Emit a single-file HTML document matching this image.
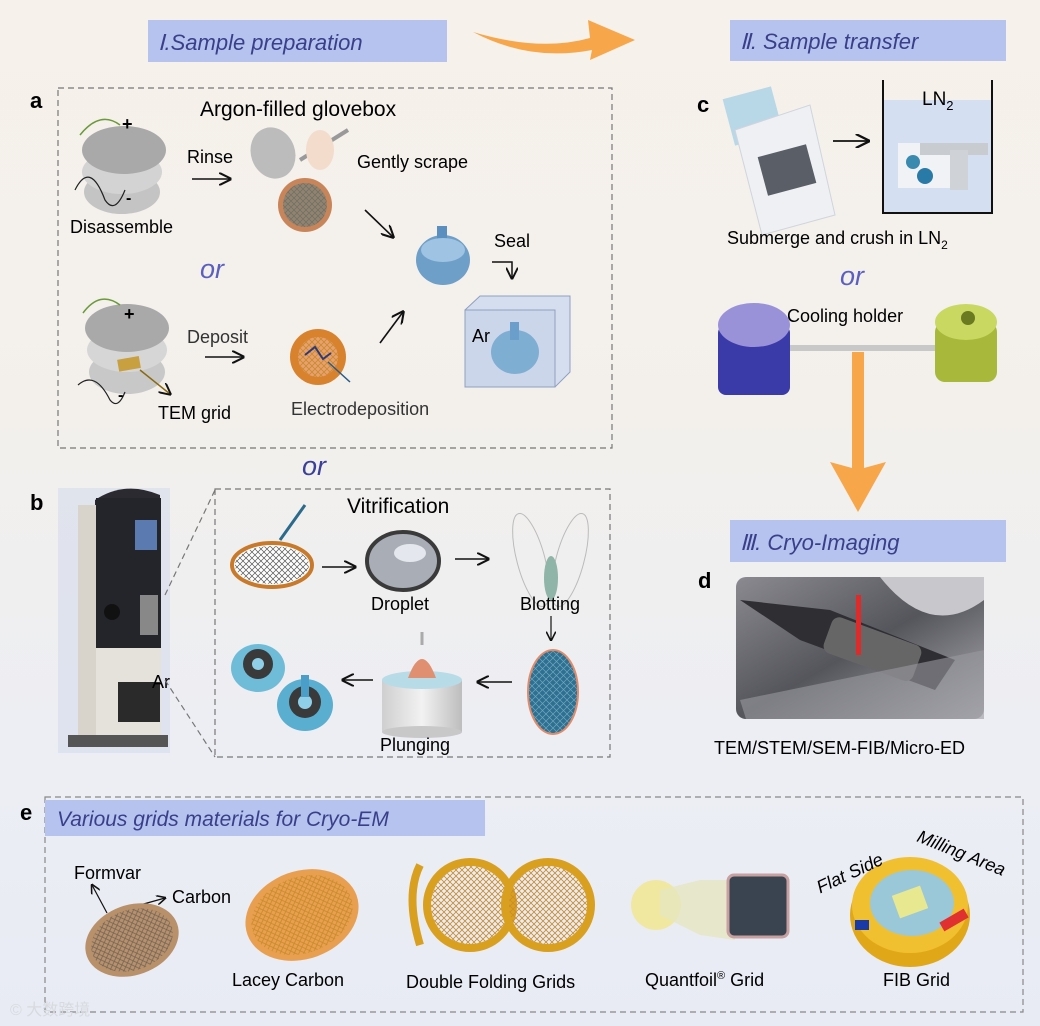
<!DOCTYPE html>
<html><head><meta charset="utf-8"><style>
html,body{margin:0;padding:0}
body{width:1040px;height:1026px;overflow:hidden;background:linear-gradient(180deg,#f6f1ea 0%,#f3f0ec 40%,#eceef4 75%,#e8ebf4 100%);}
svg{display:block}
text{font-family:"Liberation Sans",sans-serif}
</style></head><body>
<svg width="1040" height="1026" viewBox="0 0 1040 1026" xmlns="http://www.w3.org/2000/svg">
<defs>
<pattern id="mesh" width="6" height="6" patternUnits="userSpaceOnUse"><path d="M0 0L6 6M6 0L0 6" stroke="#555" stroke-width="0.7"/></pattern>
<pattern id="omesh" width="6" height="6" patternUnits="userSpaceOnUse"><path d="M0 0L6 6M6 0L0 6" stroke="#c98a2a" stroke-width="0.8"/></pattern>
<pattern id="bmesh" width="7" height="7" patternUnits="userSpaceOnUse"><rect width="7" height="7" fill="#2f6f8f"/><path d="M0 0L7 7M7 0L0 7" stroke="#6fa6c0" stroke-width="0.7"/></pattern>
<marker id="ah" markerWidth="8" markerHeight="8" refX="7" refY="4" orient="auto"><path d="M0 0L8 4L0 8" fill="none" stroke="#111" stroke-width="1.3"/></marker>
<linearGradient id="dimg" x1="0" y1="0" x2="1" y2="1"><stop offset="0" stop-color="#8a8a90"/><stop offset=".5" stop-color="#55555c"/><stop offset="1" stop-color="#b0b0b6"/></linearGradient>
<linearGradient id="cyl" x1="0" x2="1"><stop offset="0" stop-color="#cfcfcf"/><stop offset=".5" stop-color="#f2f2f2"/><stop offset="1" stop-color="#bdbdbd"/></linearGradient>
</defs>

<rect x="148" y="20" width="299" height="42" fill="#b5c3ee"/>
<text x="158" y="50" font-size="22" font-style="italic" fill="#3a3f8a">Ⅰ.Sample preparation</text>
<path d="M473 32 Q540 52 590 38 L588 20 L635 40 L590 60 L592 50 Q530 62 473 32Z" fill="#f7a64a"/>
<rect x="730" y="20" width="276" height="41" fill="#b5c3ee"/>
<text x="740" y="49" font-size="22" font-style="italic" fill="#3a3f8a">Ⅱ. Sample transfer</text>

<rect x="58" y="88" width="554" height="360" fill="none" stroke="#777" stroke-dasharray="6,4" stroke-width="1.2"/>
<text x="30" y="108" font-size="22" font-weight="bold">a</text>
<text x="200" y="116" font-size="21">Argon-filled glovebox</text>
<ellipse cx="122" cy="192" rx="38" ry="22" fill="#c4c4c4"/>
<ellipse cx="122" cy="172" rx="40" ry="22" fill="#d3d3d3"/>
<ellipse cx="124" cy="150" rx="42" ry="24" fill="#a9a9a9"/>
<path d="M80 135 Q100 110 120 125" stroke="#6a9a3a" fill="none" stroke-width="1.5"/>
<text x="122" y="130" font-size="18" font-weight="bold">+</text>
<path d="M75 190 Q90 160 105 200 Q115 215 125 190" stroke="#222" fill="none" stroke-width="1.2"/>
<text x="126" y="203" font-size="16" font-weight="bold">-</text>
<text x="70" y="233" font-size="18">Disassemble</text>
<text x="187" y="163" font-size="18">Rinse</text>
<line x1="192" y1="179" x2="230" y2="179" stroke="#111" stroke-width="1.6" marker-end="url(#ah)"/>
<ellipse cx="273" cy="153" rx="22" ry="26" fill="#bcbcbc" transform="rotate(-20 273 153)"/>
<path d="M300 160 L348 130" stroke="#999" stroke-width="4"/>
<ellipse cx="320" cy="150" rx="14" ry="20" fill="#f3dccb"/>
<text x="357" y="168" font-size="18">Gently scrape</text>
<circle cx="305" cy="205" r="27" fill="#c9855a"/><circle cx="305" cy="205" r="22" fill="#8f8470"/><circle cx="305" cy="205" r="22" fill="url(#mesh)" opacity=".5"/>
<line x1="365" y1="210" x2="393" y2="237" stroke="#111" stroke-width="1.6" marker-end="url(#ah)"/>
<ellipse cx="443" cy="260" rx="27" ry="25" fill="#6e9fc8"/>
<rect x="437" y="226" width="10" height="20" fill="#5b8fbf"/>
<ellipse cx="443" cy="250" rx="22" ry="12" fill="#9fc3e2"/>
<text x="494" y="247" font-size="18">Seal</text>
<path d="M492 262 H512 V278" stroke="#111" stroke-width="1.5" fill="none" marker-end="url(#ah)"/>
<path d="M465 310 L480 296 L570 296 L570 372 L555 387 Z" fill="#d4deee" stroke="#8fa0c0"/>
<rect x="465" y="310" width="90" height="77" fill="#cbd6ea" stroke="#8fa0c0"/>
<text x="472" y="342" font-size="18">Ar</text>
<ellipse cx="515" cy="352" rx="24" ry="22" fill="#7faed3"/>
<rect x="510" y="322" width="9" height="18" fill="#6b9ecb"/>
<text x="200" y="278" font-size="27" font-style="italic" fill="#5b5fc0">or</text>
<ellipse cx="127" cy="372" rx="38" ry="22" fill="#c8c8c8"/>
<ellipse cx="127" cy="350" rx="40" ry="22" fill="#d6d6d6"/>
<ellipse cx="127" cy="328" rx="42" ry="24" fill="#a9a9a9"/>
<rect x="118" y="358" width="22" height="12" fill="#c8a040" transform="rotate(-10 128 364)"/>
<line x1="140" y1="370" x2="170" y2="394" stroke="#8a6a10" stroke-width="1.5" marker-end="url(#ah)"/>
<path d="M83 313 Q100 290 120 305" stroke="#6a9a3a" fill="none" stroke-width="1.5"/>
<text x="124" y="320" font-size="18" font-weight="bold">+</text>
<path d="M78 385 Q95 370 110 400 Q118 410 125 392" stroke="#222" fill="none" stroke-width="1.2"/>
<text x="118" y="400" font-size="16" font-weight="bold">-</text>
<text x="158" y="419" font-size="18">TEM  grid</text>
<text x="187" y="343" font-size="18" fill="#333">Deposit</text>
<line x1="205" y1="357" x2="243" y2="357" stroke="#111" stroke-width="1.6" marker-end="url(#ah)"/>
<circle cx="318" cy="357" r="28" fill="#d9822e"/><circle cx="318" cy="357" r="20" fill="#e8a070"/><circle cx="318" cy="357" r="20" fill="url(#omesh)"/>
<path d="M305 355l10-8 8 12 8-6" stroke="#2a3a7a" stroke-width="2" fill="none"/>
<line x1="328" y1="362" x2="350" y2="382" stroke="#2a5a8a" stroke-width="1.5"/>
<text x="291" y="415" font-size="18" fill="#333">Electrodeposition</text>
<line x1="380" y1="343" x2="403" y2="312" stroke="#111" stroke-width="1.6" marker-end="url(#ah)"/>

<text x="302" y="475" font-size="27" font-style="italic" fill="#3a3f9a">or</text>

<text x="30" y="510" font-size="22" font-weight="bold">b</text>
<rect x="58" y="488" width="112" height="265" fill="#cfd8ec" opacity=".5"/>
<path d="M95 500 Q125 480 160 495 L160 560 L95 560Z" fill="#2a2a30"/>
<rect x="78" y="505" width="20" height="235" fill="#d8d4cc"/>
<rect x="96" y="498" width="65" height="150" fill="#23252a"/>
<rect x="135" y="520" width="22" height="30" fill="#5a7ab0"/>
<rect x="140" y="595" width="18" height="40" fill="#888"/>
<circle cx="112" cy="612" r="8" fill="#111"/>
<rect x="96" y="648" width="65" height="90" fill="#e5e2dc"/>
<rect x="118" y="682" width="42" height="40" fill="#2a2a2a"/>
<rect x="68" y="735" width="100" height="12" fill="#555"/>
<text x="152" y="688" font-size="18">Ar</text>
<path d="M165 595 L215 490 M165 680 L215 757" stroke="#777" stroke-dasharray="6,4" stroke-width="1.2"/>
<rect x="215" y="489" width="395" height="268" fill="none" stroke="#777" stroke-dasharray="6,4" stroke-width="1.2"/>
<text x="347" y="513" font-size="21">Vitrification</text>
<ellipse cx="272" cy="565" rx="40" ry="22" fill="#fff" stroke="#c87a2a" stroke-width="4"/>
<ellipse cx="272" cy="565" rx="37" ry="19" fill="url(#mesh)"/>
<line x1="280" y1="540" x2="305" y2="505" stroke="#2a6a8a" stroke-width="3"/>
<line x1="322" y1="567" x2="355" y2="567" stroke="#111" stroke-width="1.6" marker-end="url(#ah)"/>
<ellipse cx="403" cy="561" rx="36" ry="29" fill="#a9aeb6" stroke="#3a3a3a" stroke-width="4"/>
<ellipse cx="410" cy="553" rx="16" ry="9" fill="#e4e8ee"/>
<text x="371" y="610" font-size="18">Droplet</text>
<line x1="455" y1="559" x2="488" y2="559" stroke="#111" stroke-width="1.6" marker-end="url(#ah)"/>
<ellipse cx="531" cy="560" rx="14" ry="48" fill="none" stroke="#bbb" transform="rotate(-15 531 560)"/>
<ellipse cx="570" cy="560" rx="14" ry="48" fill="none" stroke="#bbb" transform="rotate(15 570 560)"/>
<ellipse cx="551" cy="578" rx="7" ry="22" fill="#8fb4a8"/>
<text x="520" y="610" font-size="18">Blotting</text>
<line x1="551" y1="616" x2="551" y2="640" stroke="#111" stroke-width="1.2" marker-end="url(#ah)"/>
<ellipse cx="553" cy="692" rx="25" ry="42" fill="url(#bmesh)" stroke="#e08a6a" stroke-width="2"/>
<line x1="512" y1="682" x2="478" y2="682" stroke="#111" stroke-width="1.6" marker-end="url(#ah)"/>
<rect x="382" y="680" width="80" height="52" fill="url(#cyl)"/>
<ellipse cx="422" cy="732" rx="40" ry="6" fill="#c8c8c8"/>
<ellipse cx="422" cy="680" rx="40" ry="9" fill="#b8dbe8"/>
<path d="M408 678 Q422 640 436 678Z" fill="#e09070"/>
<line x1="422" y1="645" x2="422" y2="632" stroke="#aaa" stroke-width="3"/>
<text x="380" y="751" font-size="18">Plunging</text>
<line x1="373" y1="680" x2="343" y2="680" stroke="#111" stroke-width="1.6" marker-end="url(#ah)"/>
<ellipse cx="258" cy="668" rx="27" ry="24" fill="#6fbcd8"/>
<circle cx="258" cy="664" r="15" fill="#3a3a3a"/><circle cx="258" cy="664" r="6" fill="#8fd0e8"/>
<ellipse cx="305" cy="705" rx="28" ry="26" fill="#5aaed0"/>
<circle cx="305" cy="702" r="16" fill="#3a3a3a"/><circle cx="305" cy="702" r="7" fill="#8fd0e8"/>
<rect x="301" y="675" width="8" height="22" fill="#4a9ec8"/>

<text x="697" y="112" font-size="22" font-weight="bold">c</text>
<rect x="728" y="92" width="50" height="48" fill="#b8d8e8" transform="rotate(-15 753 116)"/>
<path d="M735 130 L810 105 L835 215 L762 235Z" fill="#eef0f4" stroke="#d0d4dc"/>
<rect x="762" y="150" width="50" height="40" fill="#5a5e66" transform="rotate(-15 787 170)"/>
<line x1="833" y1="141" x2="868" y2="141" stroke="#111" stroke-width="1.8" marker-end="url(#ah)"/>
<rect x="883" y="100" width="109" height="113" fill="#d4e0f2"/>
<path d="M883 80 V213 H992 V80" fill="none" stroke="#111" stroke-width="2"/>
<text x="922" y="105" font-size="19">LN<tspan font-size="13" dy="5">2</tspan></text>
<rect x="898" y="143" width="55" height="45" fill="#f0f2f6"/>
<rect x="920" y="143" width="68" height="12" fill="#c8cbd0"/>
<rect x="950" y="150" width="18" height="40" fill="#cfd2d6"/>
<circle cx="913" cy="162" r="7" fill="#3a8ab0"/><circle cx="925" cy="176" r="8" fill="#2a7aa8"/>
<text x="727" y="244" font-size="18">Submerge and crush in LN<tspan font-size="12" dy="5">2</tspan></text>
<text x="840" y="285" font-size="27" font-style="italic" fill="#5b5fc0">or</text>
<rect x="790" y="345" width="150" height="6" fill="#c8c8c8"/>
<rect x="718" y="325" width="72" height="70" rx="8" fill="#3a3aa8"/>
<ellipse cx="754" cy="325" rx="36" ry="22" fill="#9a92d8"/>
<text x="787" y="322" font-size="18">Cooling holder</text>
<rect x="935" y="322" width="62" height="60" rx="10" fill="#a8b83a"/>
<ellipse cx="966" cy="322" rx="31" ry="18" fill="#c8d860"/>
<circle cx="968" cy="318" r="7" fill="#6a7a20"/>
<path d="M852 352 L864 352 L864 468 L886 462 L858 512 L830 462 L852 468Z" fill="#f7a64a"/>

<rect x="730" y="520" width="276" height="42" fill="#b5c3ee"/>
<text x="740" y="550" font-size="22" font-style="italic" fill="#3a3f8a">Ⅲ.  Cryo-Imaging</text>
<text x="698" y="588" font-size="22" font-weight="bold">d</text>
<rect x="736" y="577" width="248" height="142" rx="10" fill="url(#dimg)"/>
<path d="M880 577 Q930 640 984 600 L984 577Z" fill="#c8c8cc"/>
<path d="M740 600 L800 640 L935 690 L955 660 L830 610Z" fill="#2e2e33"/>
<rect x="825" y="630" width="95" height="38" rx="8" fill="#666" transform="rotate(20 872 649)"/>
<rect x="856" y="595" width="5" height="60" fill="#e02a2a"/>
<path d="M740 700 L984 650 L984 719 L746 719Z" fill="#9a9aa0" opacity=".6"/>
<text x="714" y="754" font-size="18">TEM/STEM/SEM-FIB/Micro-ED</text>

<text x="20" y="820" font-size="22" font-weight="bold">e</text>
<rect x="45" y="797" width="978" height="215" fill="none" stroke="#888" stroke-dasharray="6,4" stroke-width="1.2"/>
<rect x="45" y="800" width="440" height="36" fill="#b5c3ee"/>
<text x="57" y="826" font-size="21" font-style="italic" fill="#3a3f8a">Various grids materials for Cryo-EM</text>
<text x="74" y="879" font-size="18">Formvar</text>
<text x="172" y="903" font-size="18">Carbon</text>
<line x1="107" y1="913" x2="92" y2="885" stroke="#111" stroke-width="1.2" marker-end="url(#ah)"/>
<line x1="140" y1="905" x2="165" y2="898" stroke="#111" stroke-width="1.2" marker-end="url(#ah)"/>
<ellipse cx="132" cy="940" rx="48" ry="35" fill="#b8906a" transform="rotate(-20 132 940)"/>
<ellipse cx="132" cy="940" rx="42" ry="30" fill="url(#mesh)" opacity=".8" transform="rotate(-20 132 940)"/>
<ellipse cx="302" cy="915" rx="58" ry="44" fill="#e8a050" transform="rotate(-20 302 915)"/>
<ellipse cx="302" cy="915" rx="52" ry="38" fill="url(#omesh)" transform="rotate(-20 302 915)"/>
<text x="232" y="986" font-size="18">Lacey Carbon</text>
<circle cx="470" cy="905" r="43" fill="none" stroke="#d9a020" stroke-width="8"/>
<circle cx="470" cy="905" r="39" fill="url(#omesh)"/>
<circle cx="548" cy="905" r="43" fill="none" stroke="#d9a020" stroke-width="8"/>
<circle cx="548" cy="905" r="39" fill="url(#omesh)"/>
<path d="M420 865 Q405 895 420 945" fill="none" stroke="#d9a020" stroke-width="8"/>
<text x="406" y="988" font-size="18">Double Folding Grids</text>
<circle cx="656" cy="905" r="25" fill="#f0e8a0"/>
<path d="M660 890 L700 880 L735 880 L735 940 L700 935 L660 915Z" fill="#e6e6c0" opacity=".8"/>
<rect x="728" y="875" width="60" height="62" rx="6" fill="#3a4450" stroke="#c8a0a0" stroke-width="3"/>
<text x="645" y="986" font-size="18">Quantfoil<tspan font-size="11" dy="-7">®</tspan><tspan dy="7"> Grid</tspan></text>
<ellipse cx="910" cy="915" rx="60" ry="52" fill="#e0a818"/>
<ellipse cx="910" cy="905" rx="58" ry="48" fill="#f0c030"/>
<ellipse cx="912" cy="903" rx="42" ry="33" fill="#9ac8d8"/>
<rect x="895" y="890" width="30" height="24" fill="#e8e890" transform="rotate(-20 910 902)"/>
<rect x="940" y="915" width="28" height="10" fill="#e03030" transform="rotate(-30 954 920)"/>
<rect x="855" y="920" width="14" height="10" fill="#1a3aa8"/>
<text x="812" y="883" font-size="18" font-style="italic" transform="rotate(-25 840 870)">Flat Side</text>
<text x="912" y="855" font-size="18" font-style="italic" transform="rotate(22 950 858)">Milling Area</text>
<text x="883" y="986" font-size="18">FIB Grid</text>
<text x="10" y="1015" font-size="16" fill="#d8dae0" font-family="'Liberation Sans','Noto Sans CJK SC',sans-serif">© 大数跨境</text>
</svg>
</body></html>
